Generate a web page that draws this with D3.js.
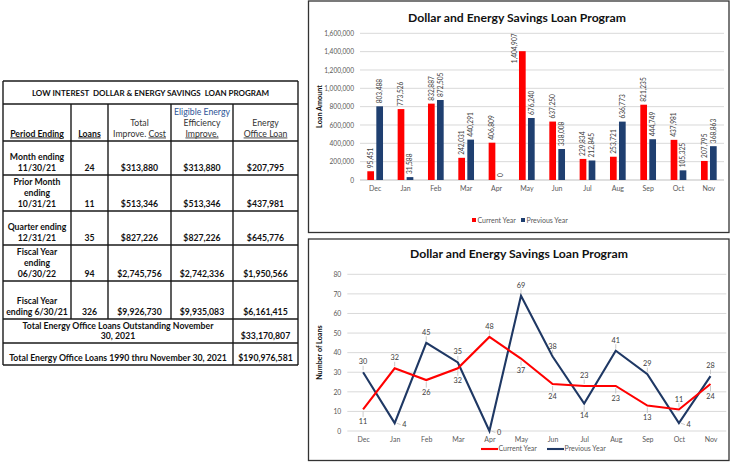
<!DOCTYPE html>
<html><head><meta charset="utf-8">
<script src="https://cdn.jsdelivr.net/npm/d3@7"></script>
<style>
body{margin:0;background:#fff}
svg{display:block}
text{font-family:Lato,'Liberation Sans',sans-serif}
</style>
</head><body>
<svg id="c" width="732" height="462"></svg>
<script>
// ---------- DATA ----------
const months = ["Dec","Jan","Feb","Mar","Apr","May","Jun","Jul","Aug","Sep","Oct","Nov"];
const seriesNames = ["Current Year","Previous Year"];
const amountCurrent  = [95451,773526,832887,242031,406809,1404907,637250,229834,253721,821235,437981,207795];
const amountPrevious = [803488,31588,872505,440291,0,676240,338008,212845,636773,444749,105325,368863];
const amountTicks = [0,200000,400000,600000,800000,1000000,1200000,1400000,1600000];
const loansCurrent  = [11,32,26,32,48,37,24,23,23,13,11,24];
const loansPrevious = [30,4,45,35,0,69,38,14,41,29,4,28];
const loanTicks = [0,10,20,30,40,50,60,70,80];
const chartTitle = "Dollar and Energy Savings Loan Program";

const tableTitle = "LOW INTEREST  DOLLAR & ENERGY SAVINGS  LOAN PROGRAM";
const periodLabels = [["Month ending","11/30/21"],["Prior Month","ending","10/31/21"],["Quarter ending","12/31/21"],["Fiscal Year","ending","06/30/22"],["Fiscal Year","ending 6/30/21"]];
const periodLoans = [24,11,35,94,326];
const improveCost = [313880,513346,827226,2745756,9926730];
const eligibleImprove = [313880,513346,827226,2742336,9935083];
const officeLoan = [207795,437981,645776,1950566,6161415];
const totalLabels = [["Total Energy Office Loans Outstanding November","30, 2021"],["Total Energy Office Loans 1990 thru November 30, 2021"]];
const totalValues = [33170807,190976581];

// label placement for line chart data labels
const curPos  = ["below","above","below","below","above","below","below","above","below","below","above","below"];
const prevPos = ["above","right","above","above","right","above","above","below","above","above","right","above"];

// ---------- STYLE ----------
const RED = "#ff0000", BLUE_BAR = "#1f3f70", BLUE_LINE = "#1f3864";
const svg = d3.select("#c");
const fmt = d3.format(",");
const money = v => "$" + fmt(v);

// ---------- TABLE ----------
(function(){
  const g = svg.append("g");
  const colX = [3,71,108,171,233,298];
  const rowY = [81,104,141,175,211,245,281,319,343,365];
  const cx = i => (colX[i]+colX[i+1])/2;
  const lh = 11;
  const fs = 8.7;
  g.append("text").attr("x",(colX[0]+colX[5])/2).attr("y",95.5).attr("text-anchor","middle")
    .attr("font-size",8).attr("font-weight","bold").attr("fill","#111").style("white-space","pre").text(tableTitle);
  const hb = rowY[2]-4.5;
  const hdr = (i, lines) => {
    lines.forEach((ln, k) => {
      const t = g.append("text").attr("x",cx(i)).attr("y",hb-(lines.length-1-k)*lh).attr("text-anchor","middle")
        .attr("font-size",fs).attr("fill",ln.color||"#333").attr("font-weight",ln.bold?"bold":"normal");
      ln.parts.forEach(p => t.append("tspan").attr("text-decoration",p.u?"underline":"none").style("white-space","pre").text(p.t));
    });
  };
  hdr(0,[{bold:true,color:"#111",parts:[{t:"Period Ending",u:true}]}]);
  hdr(1,[{bold:true,color:"#111",parts:[{t:"Loans",u:true}]}]);
  hdr(2,[{parts:[{t:"Total"}]},{parts:[{t:"Improve. "},{t:"Cost",u:true}]}]);
  hdr(3,[{color:"#2e5597",parts:[{t:"Eligible Energy"}]},{parts:[{t:"Efficiency"}]},{parts:[{t:"Improve.",u:true}]}]);
  hdr(4,[{parts:[{t:"Energy"}]},{parts:[{t:"Office Loan",u:true}]}]);
  periodLabels.forEach((lines, r) => {
    const base = rowY[r+3]-3.8;
    lines.forEach((ln,k) => {
      g.append("text").attr("x",cx(0)).attr("y",base-(lines.length-1-k)*lh).attr("text-anchor","middle")
        .attr("font-size",fs).attr("font-weight","bold").attr("fill","#111").text(ln);
    });
    [String(periodLoans[r]), money(improveCost[r]), money(eligibleImprove[r]), money(officeLoan[r])].forEach((v,c) => {
      g.append("text").attr("x",cx(c+1)).attr("y",base).attr("text-anchor","middle")
        .attr("font-size",fs).attr("font-weight","bold").attr("fill","#111").text(v);
    });
  });
  totalLabels.forEach((lines, r) => {
    const base = rowY[r+8]-3.8;
    lines.forEach((ln,k) => {
      g.append("text").attr("x",(colX[0]+colX[4])/2).attr("y",base-(lines.length-1-k)*10).attr("text-anchor","middle")
        .attr("font-size",fs).attr("font-weight","bold").attr("fill","#111").text(ln);
    });
    g.append("text").attr("x",cx(4)).attr("y",base).attr("text-anchor","middle")
      .attr("font-size",fs).attr("font-weight","bold").attr("fill","#111").text(money(totalValues[r]));
  });
  const line = (x1,y1,x2,y2) => g.append("line").attr("x1",x1).attr("y1",y1).attr("x2",x2).attr("y2",y2)
    .attr("stroke","#1a1a1a").attr("stroke-width",1.4);
  rowY.forEach(y => line(colX[0],y,colX[5],y));
  line(colX[0],rowY[0],colX[0],rowY[9]);
  line(colX[5],rowY[0],colX[5],rowY[9]);
  [1,2,3].forEach(c => line(colX[c],rowY[1],colX[c],rowY[7]));
  line(colX[4],rowY[1],colX[4],rowY[9]);
})();

// ---------- BAR CHART ----------
(function(){
  const g = svg.append("g");
  g.append("rect").attr("x",308.5).attr("y",1).attr("width",420.5).attr("height",231.5)
    .attr("fill","#fff").attr("stroke","#333").attr("stroke-width",1.3);
  g.append("text").attr("x",517).attr("y",22).attr("text-anchor","middle").attr("font-size",12.2)
    .attr("font-weight","bold").attr("fill","#111").text(chartTitle);
  const x0 = d3.scaleBand().domain(months).range([360,724]);
  const x1 = d3.scaleBand().domain(seriesNames).range([0,x0.bandwidth()]).paddingInner(0.256).paddingOuter(0.813);
  const y = d3.scaleLinear().domain([0,1600000]).range([180,33.3]);
  g.append("g").selectAll("line").data(amountTicks).join("line")
    .attr("x1",360).attr("x2",724).attr("y1",d=>y(d)).attr("y2",d=>y(d))
    .attr("stroke",d=>d===0?"#bfbfbf":"#d9d9d9").attr("stroke-width",1);
  const ya = g.append("g").attr("transform","translate(360,0)")
    .call(d3.axisLeft(y).tickValues(amountTicks).tickFormat(fmt).tickSize(0).tickPadding(6));
  ya.select(".domain").remove();
  ya.selectAll("text").attr("font-size",6.6).attr("fill","#595959").attr("font-family","Lato,'Liberation Sans',sans-serif");
  const xa = g.append("g").attr("transform","translate(0,180)")
    .call(d3.axisBottom(x0).tickSize(0).tickPadding(6));
  xa.select(".domain").remove();
  xa.selectAll("text").attr("font-size",7).attr("fill","#595959").attr("font-family","Lato,'Liberation Sans',sans-serif");
  const series = [
    {name:seriesNames[0], vals:amountCurrent, color:RED},
    {name:seriesNames[1], vals:amountPrevious, color:BLUE_BAR}
  ];
  series.forEach(s => {
    const gg = g.append("g");
    gg.selectAll("rect").data(s.vals).join("rect")
      .attr("x",(d,i)=>x0(months[i])+x1(s.name))
      .attr("width",x1.bandwidth())
      .attr("y",d=>y(d)).attr("height",d=>y(0)-y(d))
      .attr("fill",s.color);
    gg.selectAll("text").data(s.vals).join("text")
      .attr("transform",(d,i)=>{
        const bx = x0(months[i])+x1(s.name)+x1.bandwidth()/2;
        // labels that would run past the top of the plot go beside the bar top
        if (y(d) - 28 < y(1600000)) return `translate(${bx-8},${y(d)+12}) rotate(-90)`;
        return `translate(${bx},${y(d)-3}) rotate(-90)`;
      })
      .attr("dy","0.35em").attr("text-anchor","start").attr("font-size",6.6).attr("fill","#404040")
      .text(d=>fmt(d));
  });
  g.append("text").attr("transform","translate(319,106.5) rotate(-90)").attr("text-anchor","middle")
    .attr("dy","0.35em").attr("font-size",7.2).attr("font-weight","bold").attr("fill","#111").text("Loan Amount");
  const items = [{n:seriesNames[0],c:RED,x:472},{n:seriesNames[1],c:BLUE_BAR,x:521}];
  items.forEach(it => {
    g.append("rect").attr("x",it.x).attr("y",218).attr("width",4).attr("height",4).attr("fill",it.c);
    g.append("text").attr("x",it.x+5.5).attr("y",220.5).attr("dy","0.35em").attr("font-size",7).attr("fill","#595959").text(it.n);
  });
})();

// ---------- LINE CHART ----------
(function(){
  const g = svg.append("g");
  g.append("rect").attr("x",308.5).attr("y",239).attr("width",420.5).attr("height",221.5)
    .attr("fill","#fff").attr("stroke","#333").attr("stroke-width",1.3);
  g.append("text").attr("x",519).attr("y",257.5).attr("text-anchor","middle").attr("font-size",12.2)
    .attr("font-weight","bold").attr("fill","#111").text(chartTitle);
  const x = d3.scalePoint().domain(months).range([347.3,726.3]).padding(0.5);
  const y = d3.scaleLinear().domain([0,80]).range([431,274.3]);
  g.append("g").selectAll("line").data(loanTicks).join("line")
    .attr("x1",347.3).attr("x2",726.3).attr("y1",d=>y(d)).attr("y2",d=>y(d))
    .attr("stroke","#d9d9d9").attr("stroke-width",1);
  const ya = g.append("g").attr("transform","translate(347.3,0)")
    .call(d3.axisLeft(y).tickValues(loanTicks).tickSize(0).tickPadding(6));
  ya.select(".domain").remove();
  ya.selectAll("text").attr("font-size",6.8).attr("fill","#595959").attr("font-family","Lato,'Liberation Sans',sans-serif");
  const xa = g.append("g").attr("transform","translate(0,431)")
    .call(d3.axisBottom(x).tickSize(0).tickPadding(6));
  xa.select(".domain").remove();
  xa.selectAll("text").attr("font-size",7).attr("fill","#595959").attr("font-family","Lato,'Liberation Sans',sans-serif");
  g.append("text").attr("transform","translate(319,352.6) rotate(-90)").attr("text-anchor","middle")
    .attr("dy","0.35em").attr("font-size",7.2).attr("font-weight","bold").attr("fill","#111").text("Number of Loans");

  const line = d3.line().x((d,i)=>x(months[i])).y(d=>y(d));
  const series = [
    {vals:loansPrevious, color:BLUE_LINE, pos:prevPos},
    {vals:loansCurrent, color:RED, pos:curPos}
  ];
  series.forEach(s => {
    g.append("path").attr("d",line(s.vals)).attr("fill","none").attr("stroke",s.color).attr("stroke-width",2.1)
      .attr("stroke-linejoin","miter");
  });
  series.forEach(s => {
    s.vals.forEach((v,i) => {
      const px = x(months[i]), py = y(v), p = s.pos[i];
      let lx=px, ly=py, anchor="middle", l1, l2;
      if (p==="above"){ ly = py-10.5; l1=[px,py-2]; l2=[px,py-6.5]; }
      else if (p==="below"){ ly = py+12; l1=[px,py+2]; l2=[px,py+7.5]; }
      else { lx = px+7.5; ly = py+1.5; anchor="start"; l1=[px+2,py]; l2=[px+6,py+1.5]; }
      g.append("line").attr("x1",l1[0]).attr("y1",l1[1]).attr("x2",l2[0]).attr("y2",l2[1])
        .attr("stroke","#bfbfbf").attr("stroke-width",0.8);
      g.append("text").attr("x",lx).attr("y",ly).attr("dy","0.35em").attr("text-anchor",anchor)
        .attr("font-size",7.3).attr("fill","#404040").text(v);
    });
  });
  const items = [{n:seriesNames[0],c:RED,x:481},{n:seriesNames[1],c:BLUE_LINE,x:547}];
  items.forEach(it => {
    g.append("line").attr("x1",it.x).attr("x2",it.x+17).attr("y1",449).attr("y2",449).attr("stroke",it.c).attr("stroke-width",2.1);
    g.append("text").attr("x",it.x+17.5).attr("y",449).attr("dy","0.35em").attr("font-size",7).attr("fill","#595959").text(it.n);
  });
})();
</script>
</body></html>
